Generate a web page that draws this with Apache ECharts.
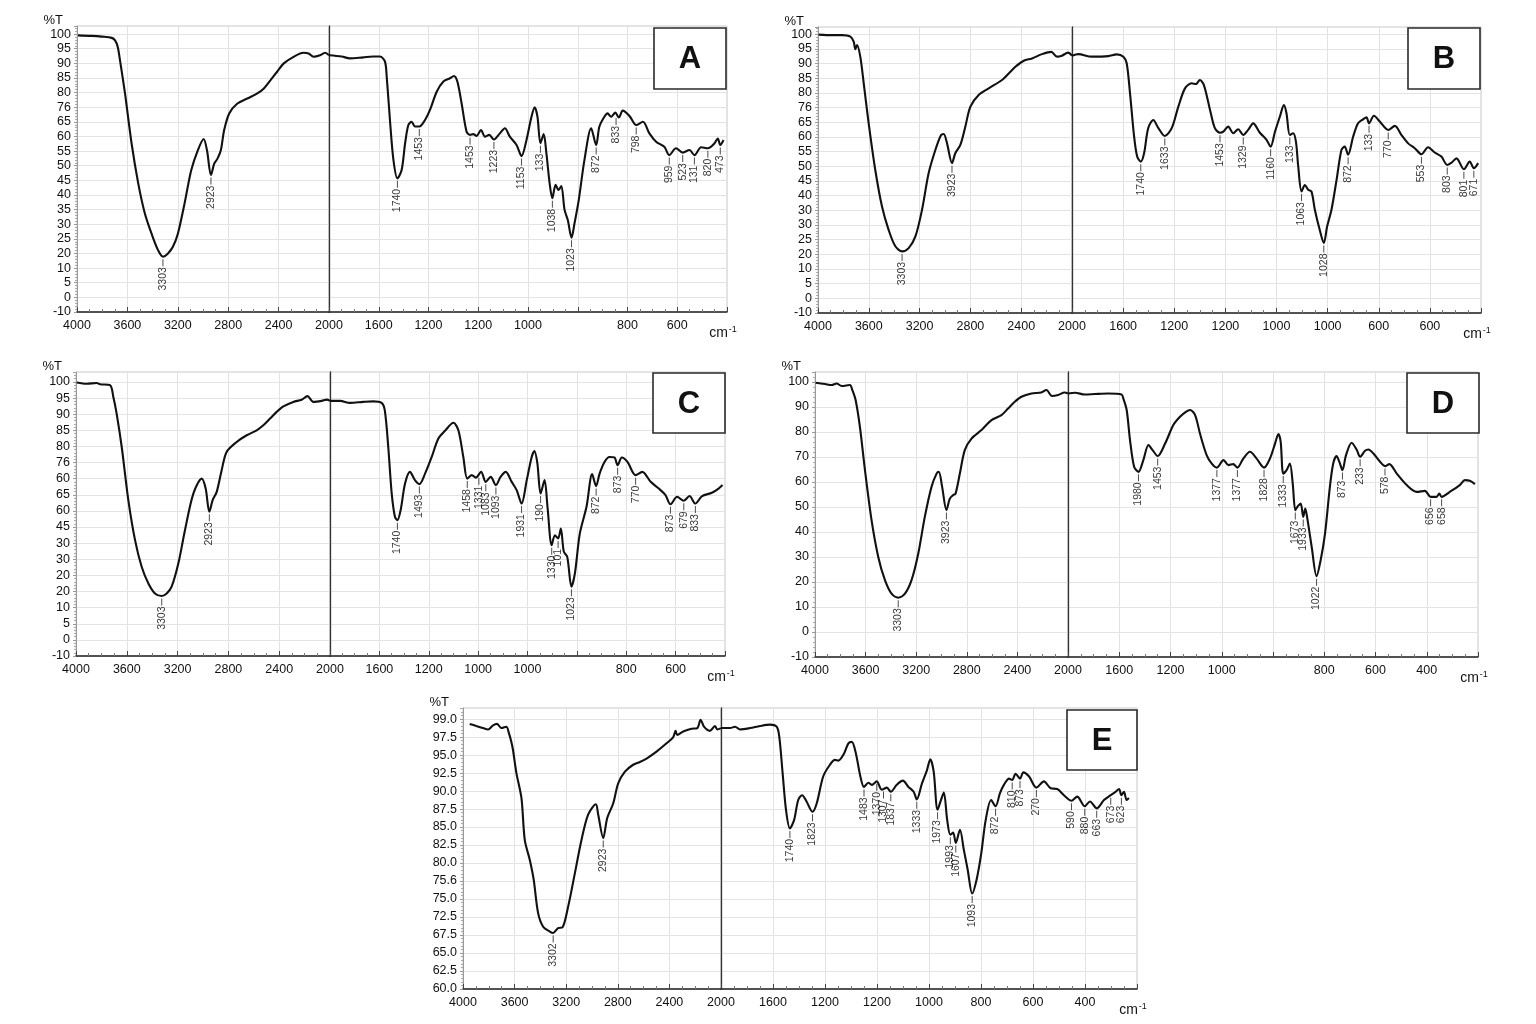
<!DOCTYPE html>
<html>
<head>
<meta charset="utf-8">
<script src="https://cdn.jsdelivr.net/npm/echarts@6/dist/echarts.min.js"></script>
<style>html,body{margin:0;padding:0;background:#fff}#chart{width:1536px;height:1024px}</style>
</head>
<body>
<div id="chart"></div>
<script>
// ---------------- DATA ----------------
// Panel A
const aWavenumber = [3992,3882,3803,3724,3698,3677,3659,3619,3567,3514,3462,3409,3357,3318,3278,3239,3199,3147,3094,3042,2995,2968,2937,2911,2884,2858,2832,2792,2727,2648,2569,2517,2464,2412,2359,2281,2202,2162,2123,2071,2031,2000,1949,1916,1862,1822,1795,1775,1768,1755,1741,1725,1708,1694,1681,1668,1654,1637,1614,1594,1567,1540,1514,1498,1484,1467,1447,1433,1420,1407,1389,1373,1356,1337,1313,1293,1273,1246,1226,1206,1186,1173,1162,1150,1137,1126,1113,1102,1089,1077,1066,1053,1040,1025,1013,996,973,946,926,913,893,880,866,849,835,819,792,765,738,712,685,652,632,605,578,551,531,504,477,450,437,427,414];
const aTransmittance = [99.5,99.3,99.0,98.5,97.5,95,89.7,76.5,56.8,40.9,29.1,21.1,14.5,11.9,13.2,15.8,21.1,32.8,46.0,53.9,58.5,53.9,44.2,48.7,50.8,54.1,62.0,68.6,72.5,74.5,76.5,78.5,81.8,85.1,88.4,91.0,92.6,92.3,91.0,91.6,92.6,91.6,91.1,90.4,90.8,91.1,91.1,89.1,83.1,66.0,50.2,42.9,46.2,56.8,64.0,65.3,63.4,63.4,66.0,70.0,77.2,81.2,82.5,83.4,81.2,72.6,61.4,60.1,60.4,59.7,62.0,59.4,60.1,58.3,60.7,62.7,59.4,56.1,51.7,58.1,67.3,71.0,67.3,56.8,60.4,52.8,40.9,35.0,40.3,38.3,39.9,30.4,26.4,19.4,25.1,34.3,50.2,62.7,56.1,63.4,67.3,68.6,67.3,68.9,67.0,69.7,67.6,64.0,65.3,60.7,57.4,55.4,52.1,54.8,53.1,54.1,52.1,55.2,54.8,56.8,58.7,56.1,58.1];
const aPeakText = ['3303','2923','1740','1453','1453','1223','1153','133','1038','1023','872','833','798','959','523','131','820','473'];
const aPeakWavenumber = [3318,2937,1725,1637,1433,1337,1226,1150,1102,1025,926,846,765,632,578,531,477,427];
const aPeakTransmittance = [11.9,44.2,42.9,63.4,60.1,58.3,51.7,56.8,35.0,19.4,56.1,67.8,64.0,52.1,53.1,52.1,54.8,56.1];
const aYTickLabels = ['100','95','90','85','80','76','65','60','55','50','45','40','35','30','25','20','10','5','0','-10'];
const aXRightTickLabels = ['','1600','1200','1200','1000','','800','600',''];

// Panel B
const bWavenumber = [3995,3890,3811,3745,3719,3706,3693,3667,3640,3601,3549,3496,3444,3391,3338,3286,3233,3181,3129,3076,3031,3010,2984,2945,2919,2879,2840,2800,2735,2656,2551,2498,2446,2380,2315,2236,2163,2118,2079,2031,2000,1975,1923,1858,1825,1799,1786,1773,1757,1745,1731,1718,1702,1682,1662,1637,1610,1584,1558,1532,1515,1500,1484,1460,1441,1421,1408,1389,1369,1350,1330,1311,1291,1265,1239,1223,1206,1187,1171,1161,1148,1135,1124,1115,1102,1089,1076,1063,1050,1031,1015,1002,985,965,946,933,920,900,881,861,848,838,819,796,763,737,711,685,659,633,607,581,555,532,515,496,467,444,428,411];
const bTransmittance = [99.8,99.6,99.6,99.0,97.0,94.0,95.7,91.1,80.6,64.8,46.4,32.0,22.8,16.3,14.3,15.6,20.2,30.7,45.1,54.3,60.2,60.6,56.9,49.1,53.0,56.3,63.5,71.4,76.0,78.6,81.9,84.5,87.1,89.5,90.4,92.1,93.0,91.1,91.5,92.7,91.5,92.1,91.1,91.3,92.0,91.1,88.5,76.6,59.6,51.7,49.7,53.0,62.9,66.1,62.9,59.8,62.9,71.4,78.6,80.6,80.3,81.9,79.9,70.1,62.9,61.1,61.5,63.5,60.9,62.5,60.2,62.2,64.8,61.1,58.3,55.6,61.5,67.4,72.0,68.8,60.2,60.9,57.6,47.8,37.9,40.5,38.6,37.9,30.7,22.8,17.6,24.1,30.7,42.5,54.3,55.6,52.4,59.6,64.8,66.4,67.2,64.8,67.8,65.5,62.2,63.8,60.2,56.9,55.0,52.6,55.4,53.3,51.7,48.4,49.3,51.0,46.7,49.7,47.1,49.1];
const bPeakText = ['3303','3923','1740','1633','1453','1329','1160','133','1063','1028','872','133','770','553','803','801','671'];
const bPeakWavenumber = [3338,2945,1731,1637,1421,1330,1223,1148,1102,1015,920,838,763,633,532,467,428];
const bPeakTransmittance = [14.3,49.1,49.7,59.8,61.1,60.2,55.6,60.2,37.9,17.6,52.4,64.8,62.2,52.6,48.4,46.7,47.1];
const bYTickLabels = ['100','95','90','85','80','76','65','60','55','50','45','40','30','30','25','20','10','5','0','-10'];
const bXRightTickLabels = ['','1600','1200','1200','1000','1000','600','600',''];

// Panel C
const cWavenumber = [3995,3916,3837,3811,3732,3706,3680,3640,3588,3535,3483,3430,3378,3325,3286,3247,3194,3142,3076,3010,2979,2950,2924,2892,2853,2814,2735,2656,2577,2525,2472,2420,2367,2289,2223,2178,2131,2066,2026,2000,1959,1919,1865,1825,1791,1778,1764,1750,1737,1727,1714,1696,1676,1656,1638,1615,1588,1561,1534,1500,1480,1460,1444,1426,1409,1388,1369,1349,1328,1309,1288,1264,1244,1224,1203,1183,1172,1160,1147,1131,1119,1102,1089,1076,1065,1053,1039,1022,1008,988,961,938,922,908,888,868,848,835,818,795,762,735,701,668,641,621,594,567,544,520,493,453,426,410];
const cTransmittance = [99.8,99.3,99.6,99.1,98.7,94.0,87.3,73.9,52.6,36.5,25.8,19.1,15.1,14.1,15.1,17.8,27.2,40.5,55.2,61.2,57.2,47.9,52.6,55.9,64.6,71.9,75.9,78.6,80.6,82.6,85.3,88.0,90.2,92.0,92.9,94.3,92.0,92.4,92.9,92.4,92.4,91.6,92.0,92.2,91.6,88.6,73.9,55.2,45.9,44.5,48.5,59.2,63.9,60.6,59.0,63.2,69.9,77.3,80.4,83.6,80.6,69.9,61.2,62.6,61.6,63.9,59.9,61.9,58.6,61.9,63.9,59.9,56.6,51.2,60.6,69.9,72.3,67.3,55.2,60.6,49.9,34.5,38.5,37.2,41.2,31.9,29.8,17.8,23.2,39.2,49.9,63.0,58.2,63.2,67.9,69.9,69.7,66.6,69.7,67.9,62.6,63.9,59.9,57.2,54.6,50.9,53.9,52.3,54.2,51.2,54.2,55.5,57.2,58.6];
const cPeakText = ['3303','2923','1740','1493','1458','1331','1083','1093','1931','190','1330','101','1023','872','873','770','873','679','833'];
const cPeakWavenumber = [3325,2950,1727,1638,1444,1397,1369,1328,1224,1147,1102,1076,1022,922,835,762,621,567,520];
const cPeakTransmittance = [14.1,47.9,44.5,59.0,61.2,62.6,59.9,58.6,51.2,55.2,34.5,37.2,17.8,58.2,66.6,62.6,50.9,52.3,51.2];
const cYTickLabels = ['100','95','90','85','80','76','60','65','60','45','30','30','20','20','10','5','0','-10'];
const cXRightTickLabels = ['','1600','1200','1000','1000','','800','600',''];

// Panel D
const dWavenumber = [3995,3921,3868,3829,3789,3724,3705,3679,3645,3605,3553,3500,3447,3395,3342,3289,3237,3184,3132,3079,3039,3021,2995,2961,2934,2908,2889,2855,2816,2763,2684,2605,2526,2474,2421,2368,2289,2211,2171,2126,2079,2026,2000,1973,1934,1895,1843,1791,1784,1771,1758,1742,1725,1706,1686,1670,1650,1621,1589,1563,1540,1524,1504,1485,1459,1439,1419,1393,1374,1355,1339,1316,1290,1264,1235,1212,1192,1179,1170,1160,1147,1134,1123,1113,1105,1092,1082,1074,1066,1049,1030,1014,997,978,965,952,941,929,915,893,873,860,841,828,808,782,763,746,717,678,639,607,585,562,551,542,510,471,451,432,412];
const dTransmittance = [99.6,99.1,98.7,99.3,98.3,98.7,96.7,92.7,82.0,64.7,44.7,30.0,20.7,15.3,13.7,15.3,20.7,31.3,46.0,58.0,63.3,64.0,58.0,48.7,53.3,54.7,55.3,63.3,72.7,77.3,80.7,84.7,86.7,89.3,92.0,94.0,95.3,95.7,96.7,94.3,94.7,95.7,95.3,95.6,94.9,95.1,95.3,94.9,93.3,88.7,76.7,66.0,64.0,68.7,74.7,72.7,70.3,75.3,82.7,86.0,88.0,88.7,86.7,79.3,70.7,67.3,65.7,68.7,66.7,67.1,65.7,69.3,72.0,69.3,65.7,69.3,75.3,79.1,76.0,63.3,64.7,67.3,59.3,48.7,50.0,51.3,46.0,49.3,45.3,34.0,22.3,28.7,39.3,58.0,67.3,70.3,68.0,64.7,70.7,75.6,72.7,70.0,72.4,72.9,71.3,68.0,66.3,67.1,63.3,58.7,56.0,56.4,54.0,54.0,55.3,54.0,56.0,58.7,60.7,60.4,59.1];
const dPeakText = ['3303','3923','1980','1453','1377','1377','1828','1333','1673','1933','1022','873','233','578','656','658'];
const dPeakWavenumber = [3342,2961,1725,1650,1419,1339,1235,1160,1113,1082,1030,929,860,763,585,542];
const dPeakTransmittance = [13.7,48.7,64.0,70.3,65.7,65.7,65.7,63.3,48.7,46.0,22.3,64.7,70.0,66.3,54.0,54.0];
const dYTickLabels = ['100','90','80','70','60','50','40','30','20','10','0','-10'];
const dXRightTickLabels = ['','1600','1200','1000','','800','600','400',''];

// Panel E
const eWavenumber = [3948,3897,3845,3806,3767,3736,3702,3664,3643,3625,3612,3586,3547,3521,3483,3452,3418,3379,3327,3301,3263,3229,3185,3133,3082,3030,2970,2952,2913,2882,2836,2797,2745,2681,2629,2577,2500,2422,2370,2352,2339,2293,2228,2184,2158,2132,2086,2047,2029,2000,1965,1946,1927,1888,1850,1812,1786,1776,1763,1750,1735,1719,1703,1688,1671,1648,1632,1607,1581,1562,1549,1527,1510,1497,1481,1465,1450,1433,1420,1401,1382,1362,1347,1324,1301,1279,1259,1247,1227,1208,1195,1182,1167,1154,1143,1130,1118,1107,1097,1081,1066,1051,1034,1017,999,982,961,944,927,912,892,880,867,850,837,815,787,758,732,707,681,652,630,601,581,555,527,501,482,469,460,450,440,431];
const eTransmittance = [98.3,98.0,97.7,97.5,98.1,98.3,97.7,97.9,96.9,95.7,94.5,91.2,87.6,81.5,78.7,75.8,71.0,69.0,68.3,68.1,68.8,68.9,71.9,76.7,81.5,85.2,86.7,85.2,81.8,84.7,86.8,89.7,91.4,92.4,92.8,93.3,94.3,95.5,96.4,97.3,96.7,97.2,97.6,97.7,98.9,97.9,97.3,98.0,97.5,97.7,97.7,97.9,97.5,97.7,98.0,98.2,97.9,96.5,91.2,85.9,83.2,84.4,87.3,88.0,87.1,85.6,86.8,90.7,92.4,93.1,93.0,94.0,95.5,95.7,94.0,90.9,89.2,89.8,89.5,90.0,88.8,89.1,88.5,89.5,90.1,89.2,88.5,87.4,89.7,91.6,93.2,91.4,85.9,87.3,88.4,84.4,82.3,82.6,81.1,83.0,80.1,77.2,73.8,75.8,79.6,84.4,87.3,86.4,88.3,89.5,90.4,90.2,91.1,90.4,91.3,90.7,89.1,90.0,89.0,88.9,88.0,87.2,87.8,86.4,87.1,86.1,87.3,88.0,88.5,88.9,88.0,88.5,87.3,87.6];
const ePeakText = ['3302','2923','1740','1823','1483','1370','1307','1837','1333','1973','1993','1607','1093','872','810','873','270','590','880','663','673','623'];
const ePeakWavenumber = [3301,2913,1735,1648,1450,1401,1375,1347,1247,1167,1118,1097,1034,944,880,850,787,652,601,555,501,460];
const ePeakTransmittance = [68.1,81.8,83.2,85.6,89.2,90.0,88.9,88.5,87.4,85.9,82.3,81.1,73.8,86.4,90.2,90.4,89.1,87.2,86.4,86.1,88.0,88.0];
const eYTickLabels = ['99.0','97.5','95.0','92.5','90.0','87.5','85.0','82.5','80.0','75.6','75.0','72.5','67.5','65.0','62.5','60.0'];
const eXRightTickLabels = ['','1600','1200','1200','1000','800','600','400',''];

const panelLetters = ['A','B','C','D','E'];

// ---------------- LAYOUT ----------------
const FONT = '"Liberation Sans", Arial, sans-serif';
const panels = [
  {letter:panelLetters[0], wn:aWavenumber, t:aTransmittance, pk:[aPeakWavenumber,aPeakTransmittance,aPeakText], yl:aYTickLabels, xr:aXRightTickLabels,
   l0:77, mid:329, r:727, top:26, bottom:312, yMin:-10, yTop:100, yMax:103.2, box:[654,28,72,61]},
  {letter:panelLetters[1], wn:bWavenumber, t:bTransmittance, pk:[bPeakWavenumber,bPeakTransmittance,bPeakText], yl:bYTickLabels, xr:bXRightTickLabels,
   l0:818, mid:1072, r:1481, top:27, bottom:313, yMin:-10, yTop:100, yMax:102.8, box:[1408,28,72,61]},
  {letter:panelLetters[2], wn:cWavenumber, t:cTransmittance, pk:[cPeakWavenumber,cPeakTransmittance,cPeakText], yl:cYTickLabels, xr:cXRightTickLabels,
   l0:76, mid:330, r:725, top:372, bottom:656, yMin:-10, yTop:100, yMax:104.0, box:[653,373,72,60]},
  {letter:panelLetters[3], wn:dWavenumber, t:dTransmittance, pk:[dPeakWavenumber,dPeakTransmittance,dPeakText], yl:dYTickLabels, xr:dXRightTickLabels,
   l0:815, mid:1068, r:1478, top:372, bottom:657, yMin:-10, yTop:100, yMax:103.9, box:[1407,373,72,60]},
  {letter:panelLetters[4], wn:eWavenumber, t:eTransmittance, pk:[ePeakWavenumber,ePeakTransmittance,ePeakText], yl:eYTickLabels, xr:eXRightTickLabels,
   l0:463, mid:721, r:1137, top:708, bottom:989, yMin:60, yTop:99, yMax:100.6, box:[1067,710,70,60]}
];

const grid = [], xAxis = [], yAxis = [], series = [], graphic = [];

panels.forEach((p, pi) => {
  const n = p.yl.length;
  const step = (p.yTop - p.yMin) / (n - 1);
  const yFmt = v => {
    const k = (v - p.yMin) / step, r = Math.round(k);
    if (Math.abs(k - r) > 1e-3 || r < 0 || r >= n) return '';
    return p.yl[n - 1 - r];
  };
  const gl = grid.length;
  grid.push({left:p.l0, top:p.top, width:p.mid - p.l0, height:p.bottom - p.top, show:true, borderColor:'#c9c9c9', borderWidth:1, backgroundColor:'transparent'});
  grid.push({left:p.mid, top:p.top, width:p.r - p.mid, height:p.bottom - p.top, show:true, borderColor:'#c9c9c9', borderWidth:1, backgroundColor:'transparent'});

  const xCommon = {
    type:'value', inverse:true,
    axisLine:{show:true, onZero:false, lineStyle:{color:'#222', width:1.5}},
    axisTick:{show:true, inside:true, length:5, lineStyle:{color:'#444'}},
    minorTick:{show:true, splitNumber:4, length:3, lineStyle:{color:'#777'}},
    splitLine:{show:true, lineStyle:{color:'#e2e2e2', width:1}},
    axisLabel:{color:'#111', fontSize:12.5, fontFamily:FONT, margin:7}
  };
  xAxis.push(Object.assign({}, xCommon, {gridIndex:gl, min:2000, max:4000, interval:400,
    axisLabel:Object.assign({}, xCommon.axisLabel, {formatter: v => String(v)})}));
  xAxis.push(Object.assign({}, xCommon, {gridIndex:gl + 1, min:400, max:2000, interval:200,
    axisLabel:Object.assign({}, xCommon.axisLabel, {showMinLabel:true, showMaxLabel:true,
      formatter: v => { const i = Math.round((2000 - v) / 200); return (i >= 0 && i < p.xr.length) ? p.xr[i] : ''; }}),
    name:'{a|cm}{b|-1}', nameLocation:'start', nameGap:-4,
    nameTextStyle:{align:'center', verticalAlign:'top', padding:[13,0,0,0],
      rich:{a:{fontSize:14, fontFamily:FONT, color:'#111'}, b:{fontSize:9, fontFamily:FONT, color:'#111', verticalAlign:'top', padding:[0,0,8,1]}}}
  }));

  const yCommon = {type:'value', min:p.yMin, max:p.yMax, interval:step,
    splitLine:{show:true, lineStyle:{color:'#e4e4e4', width:1}}};
  yAxis.push(Object.assign({}, yCommon, {gridIndex:gl,
    axisLine:{show:true, lineStyle:{color:'#9a9a9a', width:1}},
    axisTick:{show:true, length:3, lineStyle:{color:'#9a9a9a'}},
    minorTick:{show:true, splitNumber:5, length:2, lineStyle:{color:'#aaa'}},
    axisLabel:{color:'#111', fontSize:12.5, fontFamily:FONT, margin:6, formatter:yFmt, showMaxLabel:false},
    name:'%T', nameLocation:'end', nameGap:2,
    nameTextStyle:{color:'#111', fontSize:13, fontFamily:FONT, align:'right', verticalAlign:'bottom', padding:[0,14,-3,0]}
  }));
  yAxis.push(Object.assign({}, yCommon, {gridIndex:gl + 1,
    axisLine:{show:true, lineStyle:{color:'#333', width:1.3}},
    axisTick:{show:false}, axisLabel:{show:false}}));

  // split spectrum into the two scale halves
  const left = [], right = [];
  p.wn.forEach((w, i) => {
    if (w >= 2000) left.push([w, p.t[i]]);
    if (w <= 2000) right.push([w, p.t[i]]);
  });
  const lineStyle = {color:'#111', width:2.1};
  series.push({type:'line', xAxisIndex:gl, yAxisIndex:gl, data:left, symbol:'none', smooth:0.3, lineStyle, silent:true, z:3});
  series.push({type:'line', xAxisIndex:gl + 1, yAxisIndex:gl + 1, data:right, symbol:'none', smooth:0.3, lineStyle, silent:true, z:3});

  const [pw, pt, ptxt] = p.pk;
  const pl = [], pr = [];
  pw.forEach((w, i) => {
    const item = {value:[w, pt[i]], name:ptxt[i]};
    (w > 2000 ? pl : pr).push(item);
  });
  const peakSeries = (data, idx) => ({
    type:'scatter', xAxisIndex:idx, yAxisIndex:idx, data, silent:true, z:5, clip:false,
    symbol:'rect', symbolSize:[1, 7], symbolOffset:[0, 6], itemStyle:{color:'#222'},
    label:{show:true, formatter:'{b}', position:'bottom', distance:1, rotate:90, align:'right', verticalAlign:'middle',
      fontSize:10.5, fontFamily:FONT, color:'#000'}
  });
  series.push(peakSeries(pl, gl));
  series.push(peakSeries(pr, gl + 1));

  const [bx, by, bw, bh] = p.box;
  graphic.push({type:'rect', z:100, zlevel:1, shape:{x:bx, y:by, width:bw, height:bh}, style:{fill:'#ffffff', stroke:'#2a2a2a', lineWidth:1.6}});
  graphic.push({type:'text', z:101, zlevel:1, x:bx + bw / 2, y:by + bh / 2 + 1,
    style:{text:p.letter, align:'center', verticalAlign:'middle', font:'bold 31px "Liberation Sans", Arial, sans-serif', fill:'#111'}});
});

const chart = echarts.init(document.getElementById('chart'), null, {renderer:'canvas'});
chart.setOption({animation:false, backgroundColor:'#fff', grid, xAxis, yAxis, series, graphic});
</script>
</body>
</html>
